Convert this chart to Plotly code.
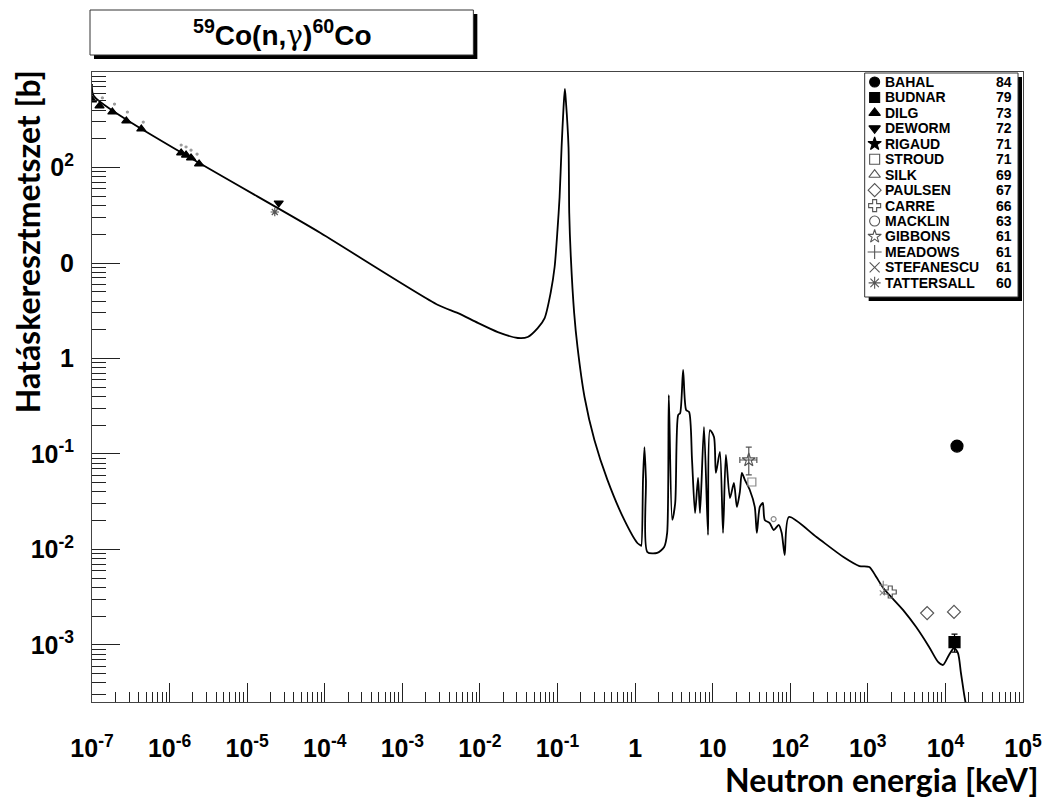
import plotly.graph_objects as go

# ---- Evaluated 59Co(n,gamma) capture cross section (energy in keV, sigma in barn)
energy_kev = [1.0e-7, 1.05e-7, 8.83e-5, 2.89e-3, 5.22e-3, 9.4e-3, 0.0170, 0.0308, 0.0413,
              0.0556, 0.0683, 0.0815, 0.0918, 0.100, 0.1064, 0.1129, 0.1197, 0.1244,
              0.128, 0.1387, 0.1417, 0.1485, 0.164, 0.181, 0.223, 0.299,
              0.440, 0.726, 1.07, 1.17, 1.20, 1.265, 1.32, 1.38, 1.44, 1.93, 2.37, 2.59,
              2.72, 3.01, 3.29, 3.59, 3.81, 4.16, 4.55, 4.97, 5.42, 5.93, 6.48, 6.87,
              7.73, 8.71, 9.23, 10.4, 11.0, 12.4, 13.6, 14.8, 16.7, 18.8, 20.5, 22.4,
              23.8, 26.0, 30.1, 34.9, 37.1, 40.5, 44.3, 46.9, 54.4, 61.2, 71.0, 77.6,
              84.8, 96.0, 218, 485, 778, 1045, 1285, 1581, 2857, 4198, 6166, 8035,
              9312, 11120, 12900, 14520, 15850, 17330, 18400]
sigma_b = [748, 565, 20.6, 3.63, 2.99, 2.36, 1.89, 1.64, 1.68,
           2.08, 2.65, 4.85, 9.08, 22.2, 49.1, 164, 430, 664,
           509, 164, 33.4, 11.6, 2.99, 1.32, 0.395, 0.140,
           0.0535, 0.0204, 0.0117, 0.0111, 0.0109, 0.0535, 0.118, 0.0535, 0.0094, 0.0092, 0.0106, 0.0149,
           0.415, 0.0204, 0.0307, 0.256, 0.268, 0.758, 0.289, 0.275, 0.0865, 0.0241, 0.0561, 0.0241,
           0.192, 0.0142, 0.178, 0.151, 0.0633, 0.105, 0.0149, 0.0978, 0.0346, 0.0497, 0.0279, 0.040,
           0.0633, 0.0535, 0.042, 0.0279, 0.0149, 0.0279, 0.0307, 0.0204, 0.0189, 0.016, 0.0181, 0.0149,
           0.00875, 0.0219, 0.0135, 0.00834, 0.00671, 0.00656, 0.00515, 0.00395, 0.00232, 0.00154, 0.000953, 0.000664,
           0.000618, 0.000786, 0.000930, 0.000824, 0.000509, 0.000314, 0.000236]

# ---- Measured data sets
bahal_e, bahal_s = [14100], [0.121]
budnar_e, budnar_s, budnar_err = [13100], [0.00107], [0.00023]
dilg_e = [1.0e-7, 1.25e-7, 1.83e-7, 2.77e-7, 4.32e-7, 1.41e-6, 1.63e-6, 1.89e-6, 2.40e-6]
dilg_s = [509, 441, 381, 307, 253, 142, 135, 126, 109]
deworm_e, deworm_s = [2.55e-5], [42.5]
stroud_e = [1.36e-7, 1.95e-7, 2.86e-7, 4.58e-7, 1.41e-6, 1.63e-6, 1.89e-6, 2.26e-6]
stroud_s = [535, 462, 381, 299, 172, 164, 152, 138]
stroud_fast_e, stroud_fast_s = [32.0], [0.0509]
paulsen_e, paulsen_s = [5810, 12900], [0.00216, 0.00222]
carre_e, carre_s = [1945], [0.00359]
macklin_e, macklin_s = [61.0], [0.0208]
gibbons_e, gibbons_s = [29.2], [0.0865]
gibbons_s_up, gibbons_s_dn = [0.0315], [0.0262]
gibbons_e_up, gibbons_e_dn = [7.9], [6.8]
meadows_e, meadows_s = [1580], [0.00425]
stefanescu_e, stefanescu_s = [1535], [0.00351]
tattersall_e, tattersall_s = [2.27e-5], [34.2]

legend_names = ["BAHAL", "BUDNAR", "DILG", "DEWORM", "RIGAUD", "STROUD", "SILK",
                "PAULSEN", "CARRE", "MACKLIN", "GIBBONS", "MEADOWS", "STEFANESCU", "TATTERSALL"]
legend_years = ["84", "79", "73", "72", "71", "71", "69", "67", "66", "63", "61", "61", "61", "60"]
legend_symbols = ["circle", "square", "triangle-up", "triangle-down", "star", "square-open",
                  "triangle-up-open", "diamond-open", "cross-open", "circle-open", "star-open",
                  "cross-thin-open", "x-thin-open", "asterisk-open"]

x_tickvals = [10.0 ** k for k in range(-7, 6)]
x_ticktext = ["10<sup>-7</sup>", "10<sup>-6</sup>", "10<sup>-5</sup>", "10<sup>-4</sup>",
              "10<sup>-3</sup>", "10<sup>-2</sup>", "10<sup>-1</sup>", "1", "10",
              "10<sup>2</sup>", "10<sup>3</sup>", "10<sup>4</sup>", "10<sup>5</sup>"]
y_tickvals = [1e-3, 1e-2, 1e-1, 1, 10, 100]
y_ticktext = ["10<sup>-3</sup>", "10<sup>-2</sup>", "10<sup>-1</sup>", "1", "0", "0<sup>2</sup>"]

# ---- page geometry (pixels)
W, H = 1054, 801
L, R, T, B = 92, 1027, 72, 702
PW, PH = R - L, B - T


def xp(px):
    return (px - L) / PW


def yp(py):
    return (B - py) / PH


BLACK = "#000000"
GREY = "#555555"
LIGHT = "#8a8a8a"

fig = go.Figure()

fig.add_trace(go.Scatter(x=energy_kev, y=sigma_b, mode="lines",
                         line=dict(color=BLACK, width=1.8, shape="spline", smoothing=0.7),
                         showlegend=False))


def points(xs, ys, symbol, size, color, **kw):
    fig.add_trace(go.Scatter(x=xs, y=ys, mode="markers", showlegend=False,
                             marker=dict(symbol=symbol, size=size, color=color,
                                         line=dict(color=color, width=1.2)), **kw))


points(stroud_e, stroud_s, "circle", 2, "#9a9a9a")
points(dilg_e, dilg_s, "triangle-up", 8, BLACK)
points(deworm_e, deworm_s, "triangle-down", 8, BLACK)
points(tattersall_e, tattersall_s, "asterisk-open", 7, GREY)
points(stroud_fast_e, stroud_fast_s, "square-open", 8, LIGHT)
points(macklin_e, macklin_s, "circle-open", 5, LIGHT)
points(gibbons_e, gibbons_s, "star-open", 10, GREY,
       error_y=dict(type="data", array=gibbons_s_up, arrayminus=gibbons_s_dn,
                    color=GREY, thickness=1.2, width=3),
       error_x=dict(type="data", array=gibbons_e_up, arrayminus=gibbons_e_dn,
                    color=GREY, thickness=1.2, width=3))
points(meadows_e, meadows_s, "cross-thin-open", 6, LIGHT)
points(stefanescu_e, stefanescu_s, "x-thin-open", 5, LIGHT)
points(carre_e, carre_s, "cross-open", 10, GREY)
points(paulsen_e, paulsen_s, "diamond-open", 10, GREY)
points(budnar_e, budnar_s, "square", 11, BLACK,
       error_y=dict(type="data", array=budnar_err, color=BLACK, thickness=1.2, width=3))
points(bahal_e, bahal_s, "circle", 12, BLACK)

# ---- legend box drawn in page-pixel coordinates on an overlay axis pair
row_y = [82 + 15.45 * i for i in range(len(legend_names))]
sym_color = [BLACK] * 5 + [GREY] * 9
fig.add_trace(go.Scatter(x=[878] * len(legend_names), y=row_y, mode="markers",
                         xaxis="x2", yaxis="y2", showlegend=False,
                         marker=dict(symbol=legend_symbols, size=10, color=sym_color,
                                     line=dict(color=sym_color, width=1.1))))

LEG_FONT = dict(family="Liberation Sans", size=14, color=BLACK, weight="bold")
annotations = []
for name, year, yy in zip(legend_names, legend_years, row_y):
    annotations.append(dict(x=xp(886), y=yp(yy), xref="paper", yref="paper",
                            text=name, showarrow=False, xanchor="left", yanchor="middle",
                            font=LEG_FONT))
    annotations.append(dict(x=xp(1018), y=yp(yy), xref="paper", yref="paper",
                            text=year, showarrow=False, xanchor="right", yanchor="middle",
                            font=LEG_FONT))

annotations.append(dict(x=xp(283), y=yp(34), xref="paper", yref="paper",
                        text="<sup>59</sup>Co(n,<span style=\"font-family:'DejaVu Serif';"
                             "font-weight:normal\">γ</span>)<sup>60</sup>Co",
                        showarrow=False, xanchor="center", yanchor="middle",
                        font=dict(family="Liberation Sans", size=28, color=BLACK, weight="bold")))
annotations.append(dict(x=xp(1044), y=yp(779), xref="paper", yref="paper",
                        text="Neutron energia [keV]", showarrow=False,
                        xanchor="right", yanchor="middle",
                        font=dict(family="Lato", size=32, color=BLACK, weight="bold")))
annotations.append(dict(x=xp(27), y=yp(242), xref="paper", yref="paper",
                        text="Hatáskeresztmetszet [b]", showarrow=False, textangle=-90,
                        xanchor="center", yanchor="middle",
                        font=dict(family="Lato", size=32, color=BLACK, weight="bold")))

shapes = [
    # title box with drop shadow
    dict(type="rect", xref="paper", yref="paper", x0=xp(94), x1=xp(479), y0=yp(14), y1=yp(59),
         fillcolor=BLACK, line=dict(width=0), layer="below"),
    dict(type="rect", xref="paper", yref="paper", x0=xp(90), x1=xp(475), y0=yp(10), y1=yp(55),
         fillcolor="white", line=dict(color="#333333", width=1), layer="below"),
    # legend box with drop shadow
    dict(type="rect", xref="paper", yref="paper", x0=xp(872), x1=xp(1026), y0=yp(77), y1=yp(301),
         fillcolor=BLACK, line=dict(width=0), layer="below"),
    dict(type="rect", xref="paper", yref="paper", x0=xp(868), x1=xp(1022), y0=yp(73), y1=yp(297),
         fillcolor="white", line=dict(color="#333333", width=1), layer="below"),
]

x_minor = [d * 10.0 ** k for k in range(-7, 5) for d in range(2, 10)]
y_minor = [d * 10.0 ** k for k in range(-4, 3) for d in range(2, 10)]

axis_common = dict(showgrid=False, zeroline=False, showline=True, linecolor="#444444",
                   linewidth=1, mirror=True, ticks="inside", tickcolor="#222222", tickwidth=1,
                   tickmode="array",
                   tickfont=dict(family="Liberation Sans", size=25, color=BLACK, weight="bold"))

fig.update_layout(
    width=W, height=H,
    margin=dict(l=L, r=W - R, t=T, b=H - B),
    paper_bgcolor="white", plot_bgcolor="white",
    showlegend=False,
    xaxis=dict(type="log", range=[-7, 5], tickvals=x_tickvals, ticktext=x_ticktext,
               ticklen=19, ticklabelstandoff=24,
               minor=dict(tickmode="array", tickvals=x_minor, ticks="inside", ticklen=10,
                          tickcolor="#222222", tickwidth=1, showgrid=False),
               **axis_common),
    yaxis=dict(type="log", range=[-3.597, 3.0], tickvals=y_tickvals, ticktext=y_ticktext,
               ticklen=28, ticklabelstandoff=12,
               minor=dict(tickmode="array", tickvals=y_minor, ticks="inside", ticklen=14,
                          tickcolor="#222222", tickwidth=1, showgrid=False),
               **axis_common),
    xaxis2=dict(range=[L, R], overlaying="x", anchor="y2", visible=False),
    yaxis2=dict(range=[B, T], overlaying="y", anchor="x2", visible=False),
    annotations=annotations,
    shapes=shapes,
)

fig.write_html("out.html")
